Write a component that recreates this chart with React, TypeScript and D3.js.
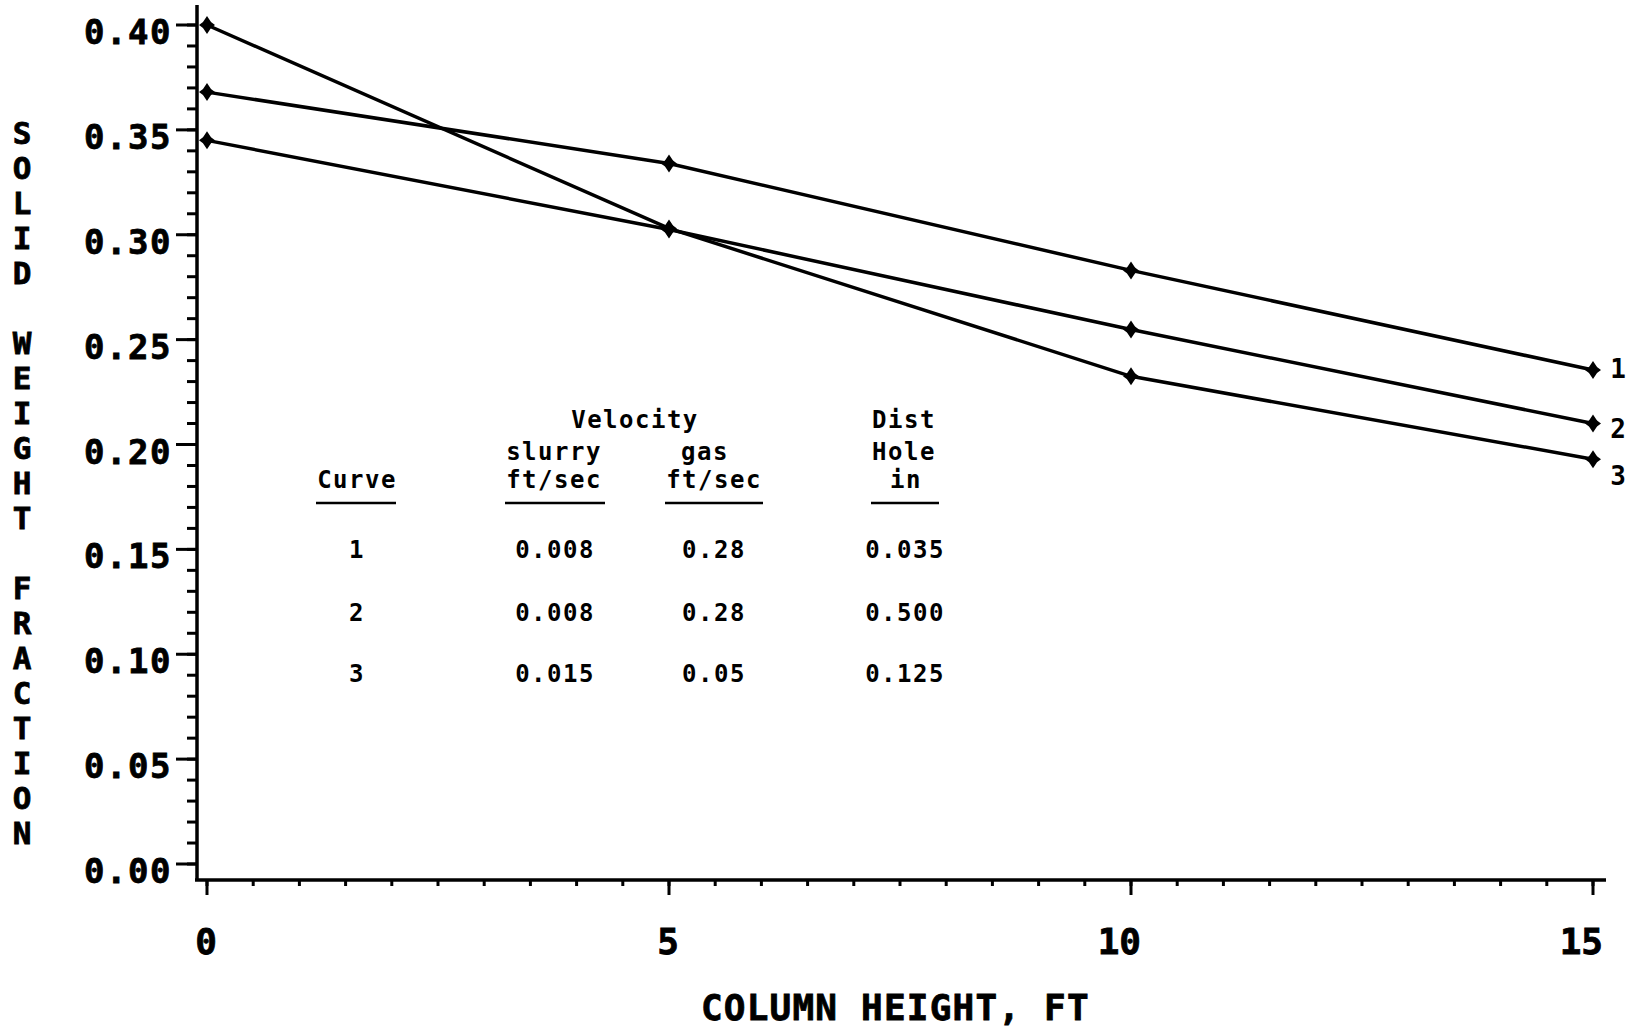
import React from "react";
import * as d3 from "d3";

// ---- data ----
const heights = [0, 5, 10, 15];
const curve1 = [0.368, 0.334, 0.283, 0.2355];
const curve2 = [0.345, 0.3025, 0.2548, 0.21];
const curve3 = [0.4, 0.303, 0.2325, 0.193];
const curveNames = ["1", "2", "3"];

const xMajorTicks = [0, 5, 10, 15];
const yMajorTicks = [0, 0.05, 0.1, 0.15, 0.2, 0.25, 0.3, 0.35, 0.4];

const tableCurve = ["1", "2", "3"];
const tableSlurry = ["0.008", "0.008", "0.015"];
const tableGas = ["0.28", "0.28", "0.05"];
const tableDist = ["0.035", "0.500", "0.125"];

const yTitle = "SOLID WEIGHT FRACTION";
const xTitle = "COLUMN HEIGHT, FT";

// ---- layout ----
const W = 1635;
const H = 1030;
const axisX = 197;
const axisY = 880;
const labelDy = [8, 14, 26];

const MONO = "'DejaVu Sans Mono', 'Liberation Mono', monospace";

export default function App() {
  const x = d3.scaleLinear().domain([0, 15]).range([207, 1593]);
  const y = d3.scaleLinear().domain([0, 0.4]).range([864, 25]);

  const series = [curve1, curve2, curve3];
  const line = d3
    .line<[number, number]>()
    .x((d) => x(d[0]))
    .y((d) => y(d[1]));

  const yMinor = y.ticks(40);
  const xMinor = x.ticks(30);

  const marker = "M0,-9 L4,-3 L8,0 L4,3 L0,9 L-4,3 L-8,0 L-4,-3 Z";

  const tableStyle = {
    fontFamily: MONO,
    fontWeight: 700,
    fontSize: 24,
    letterSpacing: 1.5,
  } as React.CSSProperties;

  return (
    <svg
      width={W}
      height={H}
      style={{ position: "absolute", left: 0, top: 0, background: "#fff" }}
    >
      <rect x={0} y={0} width={W} height={H} fill="#fff" />

      {/* axes lines */}
      <line x1={axisX} y1={5} x2={axisX} y2={axisY + 1} stroke="#000" strokeWidth={3.5} />
      <line x1={axisX - 2} y1={axisY} x2={1606} y2={axisY} stroke="#000" strokeWidth={3.5} />

      {/* y minor ticks */}
      {yMinor.map((t, i) => (
        <line
          key={"ym" + i}
          x1={axisX - 10}
          x2={axisX}
          y1={y(t)}
          y2={y(t)}
          stroke="#000"
          strokeWidth={3}
        />
      ))}
      {/* y major ticks + labels */}
      {yMajorTicks.map((t, i) => (
        <g key={"yM" + i}>
          <line x1={axisX - 21} x2={axisX} y1={y(t)} y2={y(t)} stroke="#000" strokeWidth={3} />
          <text
            x={172}
            y={y(t) + 19}
            textAnchor="end"
            fontFamily={MONO}
            fontWeight={700}
            fontSize={34}
            letterSpacing={1.5}
            stroke="#000"
            strokeWidth={0.8}
          >
            {t.toFixed(2)}
          </text>
        </g>
      ))}

      {/* x minor ticks */}
      {xMinor.map((t, i) => (
        <line
          key={"xm" + i}
          x1={x(t)}
          x2={x(t)}
          y1={axisY}
          y2={axisY + 6}
          stroke="#000"
          strokeWidth={3}
        />
      ))}
      {/* x major ticks + labels */}
      {xMajorTicks.map((t, i) => (
        <g key={"xM" + i}>
          <line x1={x(t)} x2={x(t)} y1={axisY} y2={axisY + 15} stroke="#000" strokeWidth={3} />
          <text
            x={x(t) + 10}
            y={954}
            textAnchor="end"
            fontFamily={MONO}
            fontWeight={700}
            fontSize={36}
            stroke="#000"
            strokeWidth={0.8}
          >
            {String(t)}
          </text>
        </g>
      ))}

      {/* y title stacked letters */}
      {yTitle.split("").map((ch, i) => (
        <text
          key={"yt" + i}
          x={22}
          y={133 + i * 35 + 11}
          textAnchor="middle"
          fontFamily={MONO}
          fontWeight={700}
          fontSize={31}
          stroke="#000"
          strokeWidth={0.8}
        >
          {ch === " " ? "" : ch}
        </text>
      ))}

      {/* x title */}
      <text
        x={701}
        y={1020}
        fontFamily={MONO}
        fontWeight={700}
        fontSize={36}
        letterSpacing={1.2}
        stroke="#000"
        strokeWidth={0.8}
      >
        {xTitle}
      </text>

      {/* curves */}
      {series.map((s, k) => {
        const pts = heights.map((h, i) => [h, s[i]] as [number, number]);
        return (
          <g key={"c" + k}>
            <path d={line(pts) || ""} fill="none" stroke="#000" strokeWidth={3.5} />
            {pts.map((p, i) => (
              <g key={"m" + i} transform={`translate(${x(p[0])},${y(p[1])})`}>
                <path d={marker} fill="#000" />
                <circle r={4.5} fill="#000" />
              </g>
            ))}
            <text
              x={1618}
              y={y(s[s.length - 1]) + labelDy[k]}
              textAnchor="middle"
              fontFamily={MONO}
              fontWeight={700}
              fontSize={26}
            >
              {curveNames[k]}
            </text>
          </g>
        );
      })}

      {/* table */}
      <g style={tableStyle}>
        <text x={635} y={428} textAnchor="middle">Velocity</text>
        <text x={904} y={428} textAnchor="middle">Dist</text>
        <text x={554} y={460} textAnchor="middle">slurry</text>
        <text x={705} y={460} textAnchor="middle">gas</text>
        <text x={904} y={460} textAnchor="middle">Hole</text>
        <text x={357} y={488} textAnchor="middle">Curve</text>
        <text x={554} y={488} textAnchor="middle">ft/sec</text>
        <text x={714} y={488} textAnchor="middle">ft/sec</text>
        <text x={906} y={488} textAnchor="middle">in</text>
        <line x1={316} x2={396} y1={503} y2={503} stroke="#000" strokeWidth={2.5} />
        <line x1={505} x2={605} y1={503} y2={503} stroke="#000" strokeWidth={2.5} />
        <line x1={665} x2={763} y1={503} y2={503} stroke="#000" strokeWidth={2.5} />
        <line x1={871} x2={939} y1={503} y2={503} stroke="#000" strokeWidth={2.5} />
        {tableCurve.map((c, i) => {
          const by = [558, 621, 682][i];
          return (
            <g key={"r" + i}>
              <text x={357} y={by} textAnchor="middle">{c}</text>
              <text x={555} y={by} textAnchor="middle">{tableSlurry[i]}</text>
              <text x={714} y={by} textAnchor="middle">{tableGas[i]}</text>
              <text x={905} y={by} textAnchor="middle">{tableDist[i]}</text>
            </g>
          );
        })}
      </g>
    </svg>
  );
}
